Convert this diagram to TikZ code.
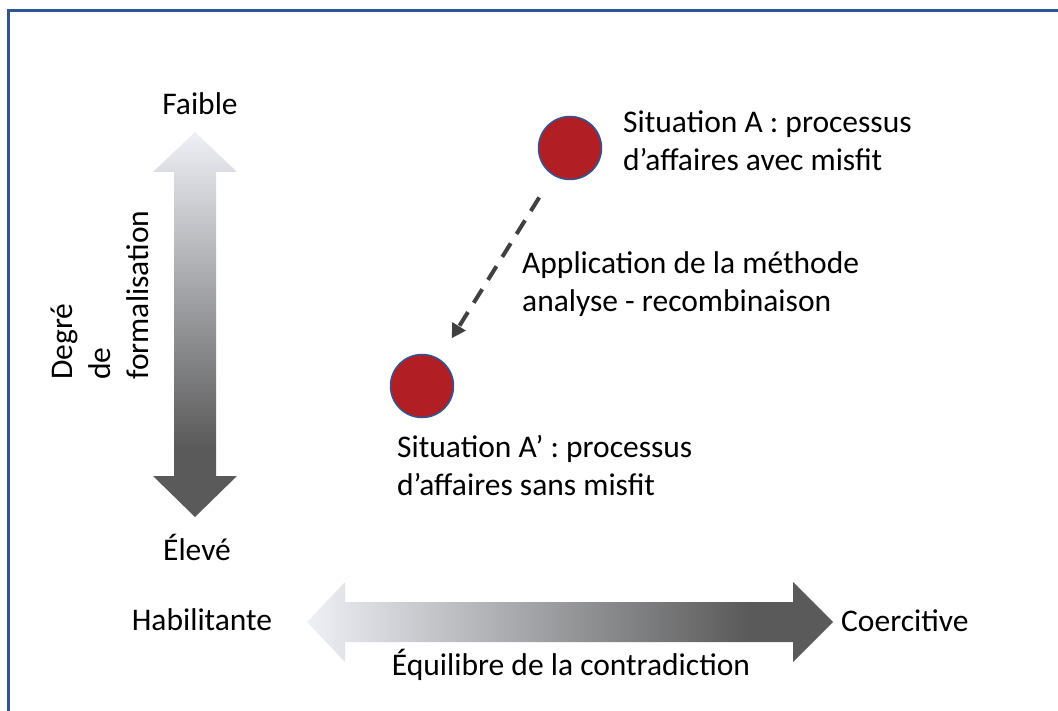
\documentclass[tikz,border=0pt]{standalone}
\usepackage{fontspec}
\setmainfont{Carlito}
\usetikzlibrary{arrows.meta}
\definecolor{frameblue}{HTML}{2F5597}
\definecolor{dotred}{HTML}{B11F24}
\definecolor{dashgray}{HTML}{404040}
\definecolor{lightend}{HTML}{EEF0F6}
\definecolor{darkend}{HTML}{5A5A5A}
\pgfdeclareverticalshading{vgrad}{100bp}{color(0bp)=(darkend); color(25bp)=(darkend); color(34bp)=(darkend); color(75bp)=(lightend); color(100bp)=(lightend)}
\pgfdeclarehorizontalshading{hgrad}{100bp}{color(0bp)=(lightend); color(25bp)=(lightend); color(67bp)=(darkend); color(100bp)=(darkend)}
\tikzset{
  lbl/.style={font=\fontsize{31.5}{38}\selectfont, inner sep=0pt, text=black},
  dot/.style={circle, fill=dotred, draw=frameblue, line width=1.5pt, minimum size=63pt, inner sep=0pt},
  dasharrow/.style={draw=dashgray, line width=4pt, dash pattern=on 16pt off 11pt, -{Triangle[length=14pt,width=15pt]}, shorten <=26pt, shorten >=24pt},
}
\begin{document}
\begin{tikzpicture}[x=1pt,y=-1pt]
\useasboundingbox (0,0) rectangle (1058,711);
% frame
\draw[frameblue, line width=3pt] (8,711) -- (8,11) -- (1058,11);
% vertical gradient arrow
\shade[shading=vgrad] (195,132) -- (237,172) -- (216,172) -- (216,476) -- (237,476) -- (195,517) -- (153,476) -- (174,476) -- (174,172) -- (153,172) -- cycle;
% horizontal gradient arrow
\shade[shading=hgrad] (307,622) -- (345,582) -- (345,602) -- (793,602) -- (793,582) -- (833,622) -- (793,662) -- (793,642) -- (345,642) -- (345,662) -- cycle;
% labels of axes
\node[lbl, anchor=base] (faible) at (200,115) {Faible};
\node[lbl, anchor=base] (eleve) at (197,560) {Élevé};
\node[lbl, anchor=base] (habil) at (202,630) {Habilitante};
\node[lbl, anchor=base west] (coerc) at (841,631) {Coercitive};
\node[lbl, anchor=base] (equil) at (571,675) {Équilibre de la contradiction};
\node[lbl, rotate=90, align=left, anchor=base west] (degre) at (148,380) {Degré\\de\\formalisation};
% situations
\node[dot] (A) at (570,148) {};
\node[dot] (Ap) at (422,386) {};
\node[lbl, align=left, anchor=base west] (sA) at (623,171) {Situation A : processus\\d’affaires avec misfit};
\node[lbl, align=left, anchor=base west] (sAp) at (397,495) {Situation A’ : processus\\d’affaires sans misfit};
\node[lbl, align=left, anchor=base west] (meth) at (522,312) {Application de la méthode\\analyse - recombinaison};
\draw[dasharrow] (A) -- (Ap);
\end{tikzpicture}
\end{document}
